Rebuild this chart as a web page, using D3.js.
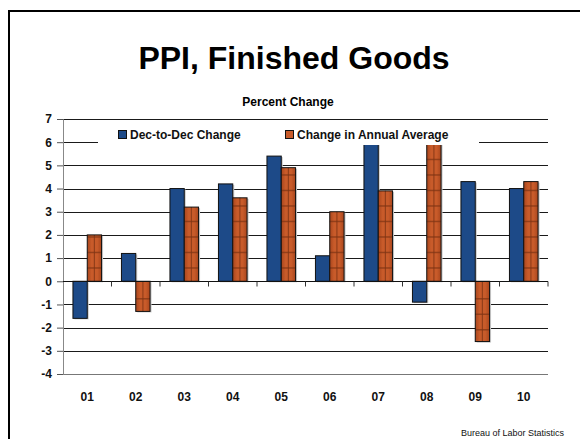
<!DOCTYPE html>
<html>
<head>
<meta charset="utf-8">
<script src="https://cdn.jsdelivr.net/npm/d3@7"></script>
<style>
  body { margin: 0; background: #fff; }
  svg { display: block; font-family: Arial, "Liberation Sans", sans-serif; }
</style>
</head>
<body>
<div id="chart"></div>
<script>
// DATA
var years = ["01", "02", "03", "04", "05", "06", "07", "08", "09", "10"];
var decToDec = [-1.6, 1.2, 4.0, 4.2, 5.4, 1.1, 6.3, -0.9, 4.3, 4.0];
var annualAvg = [2.0, -1.3, 3.2, 3.6, 4.9, 3.0, 3.9, 6.4, -2.6, 4.3];
var yTicks = [7, 6, 5, 4, 3, 2, 1, 0, -1, -2, -3, -4];
var seriesNames = ["Dec-to-Dec Change", "Change in Annual Average"];

var BLUE = "#1d4a88";
var ORANGE = "#c85b2a";

var width = 580, height = 439;
var plotLeft = 63, plotRight = 548, plotTop = 119, plotBottom = 374;

var svg = d3.select("#chart").append("svg")
    .attr("width", width)
    .attr("height", height);

// frame
svg.append("path")
    .attr("d", "M9,439 V11 H580")
    .attr("fill", "none")
    .attr("stroke", "#000")
    .attr("stroke-width", 2);

svg.append("text")
    .attr("x", 294)
    .attr("y", 69)
    .attr("text-anchor", "middle")
    .attr("font-size", 32)
    .attr("font-weight", "bold")
    .text("PPI, Finished Goods");

svg.append("text")
    .attr("x", 288)
    .attr("y", 106)
    .attr("text-anchor", "middle")
    .attr("font-size", 12)
    .attr("font-weight", "bold")
    .text("Percent Change");

var x = d3.scaleBand().domain(years).range([plotLeft, plotRight]).padding(0);
var y = d3.scaleLinear().domain([-4, 7]).range([plotBottom, plotTop]);
var barW = 14.3;

// orange bar fill: gradient + cross lines
var defs = svg.append("defs");
var grad = defs.append("linearGradient").attr("id", "og").attr("x1", 0).attr("x2", 1).attr("y1", 0).attr("y2", 0);
grad.append("stop").attr("offset", "0%").attr("stop-color", "#a9461d");
grad.append("stop").attr("offset", "30%").attr("stop-color", ORANGE);
grad.append("stop").attr("offset", "70%").attr("stop-color", ORANGE);
grad.append("stop").attr("offset", "100%").attr("stop-color", "#a9461d");

// gridlines
svg.append("g").selectAll("line")
    .data(yTicks.filter(function(d) { return d !== 0; }))
    .enter().append("line")
    .attr("x1", plotLeft).attr("x2", plotRight)
    .attr("y1", function(d) { return Math.round(y(d)) + 0.5; })
    .attr("y2", function(d) { return Math.round(y(d)) + 0.5; })
    .attr("stroke", function(d) { return d === -4 ? "#777" : "#1a1a1a"; })
    .attr("stroke-width", 1);

// y axis
var yAxis = svg.append("g")
    .attr("transform", "translate(" + plotLeft + ",0)")
    .call(d3.axisLeft(y).tickValues(yTicks).tickSize(6).tickPadding(5)
      .tickFormat(function(d) { return String(d); }));
yAxis.select(".domain").attr("stroke", "#888");
yAxis.selectAll(".tick line").attr("stroke", "#555");
yAxis.selectAll("text")
    .attr("font-size", 12)
    .attr("font-weight", "bold")
    .attr("font-family", "Arial, 'Liberation Sans', sans-serif")
    .attr("fill", "#111");

function shadow(sel) {
  sel.attr("fill", "#c8c8c8");
}

var bars = svg.append("g");
bars.selectAll(".shadowB")
    .data(decToDec)
    .enter().append("rect")
    .attr("x", function(d, i) { return x(years[i]) + x.bandwidth() / 2 - barW + 1.5; })
    .attr("y", function(d) { return Math.min(y(d), y(0)) + 1; })
    .attr("width", barW)
    .attr("height", function(d) { return Math.abs(y(d) - y(0)); })
    .call(shadow);
bars.selectAll(".shadowO")
    .data(annualAvg)
    .enter().append("rect")
    .attr("x", function(d, i) { return x(years[i]) + x.bandwidth() / 2 + 1.5; })
    .attr("y", function(d) { return Math.min(y(d), y(0)) + 1; })
    .attr("width", barW)
    .attr("height", function(d) { return Math.abs(y(d) - y(0)); })
    .call(shadow);

// blue bars
bars.selectAll(".blue")
    .data(decToDec)
    .enter().append("rect")
    .attr("class", "blue")
    .attr("x", function(d, i) { return x(years[i]) + x.bandwidth() / 2 - barW; })
    .attr("y", function(d) { return Math.min(y(d), y(0)); })
    .attr("width", barW)
    .attr("height", function(d) { return Math.abs(y(d) - y(0)); })
    .attr("fill", BLUE)
    .attr("stroke", "#111")
    .attr("stroke-width", 1);

// orange bars
var orange = bars.selectAll(".orange")
    .data(annualAvg)
    .enter().append("g")
    .attr("class", "orange");

orange.append("rect")
    .attr("x", function(d, i) { return x(years[i]) + x.bandwidth() / 2; })
    .attr("y", function(d) { return Math.min(y(d), y(0)); })
    .attr("width", barW)
    .attr("height", function(d) { return Math.abs(y(d) - y(0)); })
    .attr("fill", "url(#og)");

var hStep = 15.5;
orange.each(function(d, i) {
  var g = d3.select(this);
  var x0 = x(years[i]) + x.bandwidth() / 2;
  var top = Math.min(y(d), y(0)), bot = Math.max(y(d), y(0));
  g.append("line")
      .attr("x1", x0 + barW / 2).attr("x2", x0 + barW / 2)
      .attr("y1", top).attr("y2", bot)
      .attr("stroke", "#7e3414").attr("stroke-width", 1.2).attr("opacity", 0.7);
  var hs = [];
  for (var yy = y(0) - 13.3; yy > top + 2; yy -= hStep) hs.push(yy);
  for (var yy2 = y(0) + 17.5; yy2 < bot - 2; yy2 += hStep) hs.push(yy2);
  g.selectAll(".h").data(hs).enter().append("line")
      .attr("x1", x0).attr("x2", x0 + barW)
      .attr("y1", function(v) { return v; }).attr("y2", function(v) { return v; })
      .attr("stroke", "#7e3414").attr("stroke-width", 1.5).attr("opacity", 0.7);
});

orange.append("rect")
    .attr("x", function(d, i) { return x(years[i]) + x.bandwidth() / 2; })
    .attr("y", function(d) { return Math.min(y(d), y(0)); })
    .attr("width", barW)
    .attr("height", function(d) { return Math.abs(y(d) - y(0)); })
    .attr("fill", "none")
    .attr("stroke", "#111")
    .attr("stroke-width", 1);

// zero axis with ticks between categories
var xAxis = svg.append("g")
    .attr("transform", "translate(0," + (Math.round(y(0)) + 0.5) + ")");
xAxis.append("line")
    .attr("x1", plotLeft).attr("x2", plotRight)
    .attr("stroke", "#111");
xAxis.selectAll(".xt")
    .data(years)
    .enter().append("line")
    .attr("x1", function(d) { return x(d) + x.bandwidth(); })
    .attr("x2", function(d) { return x(d) + x.bandwidth(); })
    .attr("y1", 0).attr("y2", 5)
    .attr("stroke", "#333");

// category labels
svg.append("g").selectAll("text")
    .data(years)
    .enter().append("text")
    .attr("x", function(d) { return x(d) + x.bandwidth() / 2; })
    .attr("y", 401)
    .attr("text-anchor", "middle")
    .attr("font-size", 12)
    .attr("font-weight", "bold")
    .attr("fill", "#111")
    .text(function(d) { return d; });

// legend
var legend = svg.append("g");
legend.append("rect")
    .attr("x", 98).attr("y", 121)
    .attr("width", 381).attr("height", 24)
    .attr("fill", "#fff");
var legendX = [118, 285];
var legendColors = [BLUE, ORANGE];
seriesNames.forEach(function(name, i) {
  legend.append("rect")
      .attr("x", legendX[i] + 0.5).attr("y", 130.5)
      .attr("width", 8).attr("height", 8)
      .attr("fill", legendColors[i])
      .attr("stroke", "#111");
  legend.append("text")
      .attr("x", legendX[i] + 12).attr("y", 139)
      .attr("font-size", 12)
      .attr("font-weight", "bold")
      .attr("fill", "#111")
      .text(name);
});

svg.append("text")
    .attr("x", 564)
    .attr("y", 436)
    .attr("text-anchor", "end")
    .attr("font-size", 9)
    .attr("fill", "#111")
    .text("Bureau of Labor Statistics");
</script>
</body>
</html>
